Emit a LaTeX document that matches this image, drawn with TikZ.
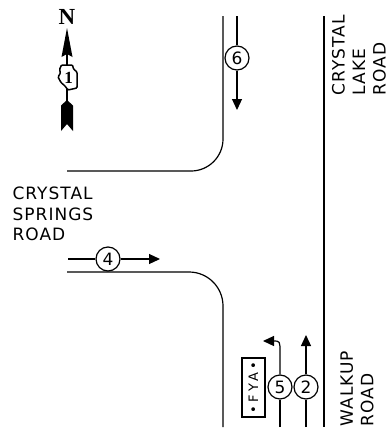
\documentclass[tikz,border=0pt]{standalone}
\usepackage{fontspec}
\setmainfont{DejaVu Sans}
\newfontfamily\roadfont[LetterSpace=6]{DejaVu Sans}
\newfontfamily\fyafont[LetterSpace=24]{DejaVu Sans}
\newfontfamily\northfont{Liberation Serif}
\usetikzlibrary{arrows.meta}

\begin{document}
\begin{tikzpicture}[x=1pt,y=-1pt,line width=1.2pt,
	lanenum/.style={draw,circle,fill=white,minimum size=24pt,inner sep=0pt,font=\fontsize{17}{17}\selectfont},
	roadname/.style={inner sep=0pt,align=left,font=\roadfont\fontsize{17}{20.5}\selectfont},
	lanearrow/.style={-{Triangle[length=11pt,width=10pt]}}]
	\useasboundingbox (0,0) rectangle (389,434);
	%\draw[help lines] (0,0) grid[step=50] (389,434);
	% curbs
	\draw[rounded corners=32pt] (223,16) |- (67,171);
	\draw[rounded corners=34pt] (67,272) -| (223,427);
	\draw (324,16) -- (324,427);
	% north arrow
	\node[inner sep=0pt,font=\northfont\bfseries\fontsize{23}{23}\selectfont] (north) at (67,16.5) {N};
	\draw[line width=1.5pt] (67,40) -- (67,120);
	\fill (67,28) -- (72.5,57) -- (67,54) -- (61.5,57) -- cycle;
	\filldraw[fill=white,line width=1.5pt,rounded corners=1pt] (61.5,65) -- (72.5,65) -- (73.5,69) -- (77,72) -- (77,88) -- (68,90) -- (65,86) -- (61,82.5) -- (58,77) -- (60.5,73) -- (59.5,69.5) -- cycle;
	\node[inner sep=0pt,font=\northfont\bfseries\fontsize{17}{17}\selectfont] (one) at (68.5,78) {1};
	\fill (67,100) -- (73,105.5) -- (73,131) -- (67,124) -- (61,131) -- (61,105.5) -- cycle;
	% road names
	\node[roadname,anchor=north west] (springs) at (12,186.5) {CRYSTAL\\SPRINGS\\ROAD};
	\node[roadname,rotate=90,anchor=north west] (lake) at (331.5,96) {CRYSTAL\\LAKE\\ROAD};
	\node[roadname,rotate=90,anchor=north west] (walkup) at (340,427) {WALKUP\\ROAD};
	% lane 6
	\coordinate (l6a) at (237,16);
	\node[lanenum] (c6) at (237,58) {6};
	\coordinate (l6b) at (237,110);
	\draw (l6a) -- (c6);
	\draw[lanearrow] (c6) -- (l6b);
	% lane 4
	\coordinate (l4a) at (68,259);
	\node[lanenum] (c4) at (108,259) {4};
	\coordinate (l4b) at (160,259);
	\draw (l4a) -- (c4);
	\draw[lanearrow] (c4) -- (l4b);
	% lane 5
	\coordinate (l5a) at (280,427);
	\node[lanenum] (c5) at (280,387) {5};
	\coordinate (l5b) at (263,341);
	\draw (l5a) -- (c5);
	\draw[lanearrow] (c5) -- (280,352) .. controls (280,341) .. (273,341) -- (l5b);
	% lane 2
	\coordinate (l2a) at (306,427);
	\node[lanenum] (c2) at (306,387) {2};
	\coordinate (l2b) at (306,335);
	\draw (l2a) -- (c2);
	\draw[lanearrow] (c2) -- (l2b);
	% flashing yellow arrow
	\node[draw,rotate=90,minimum width=59pt,minimum height=23pt,inner sep=0pt,font=\fyafont\fontsize{13}{13}\selectfont] (fya) at (253.5,387.5) {•FYA•};
\end{tikzpicture}
\end{document}
